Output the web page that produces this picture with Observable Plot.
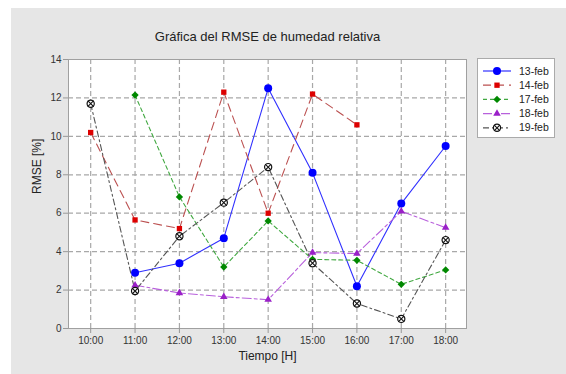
<!DOCTYPE html>
<html>
<head>
<meta charset="utf-8">
<script src="https://cdn.jsdelivr.net/npm/d3@7"></script>
<script src="https://cdn.jsdelivr.net/npm/@observablehq/plot@0.6"></script>
<style>
  html, body { margin: 0; padding: 0; background: #fff; }
  #wrap { position: relative; width: 566px; height: 374px; overflow: hidden; background: #fff; font-family: "Liberation Sans", Arial, sans-serif; }
  #panel { position: absolute; left: 11px; top: 8px; right: 0; bottom: 0; background: #e6e6e6; }
  #chart { position: absolute; left: 0; top: 0; }
  #legend { position: absolute; left: 477px; top: 58px; width: 78px; height: 80px; background: #fff; border: 1px solid #aaa; box-sizing: border-box; }
</style>
</head>
<body>
<div id="wrap">
  <div id="panel"></div>
  <div id="chart"></div>
  <div id="legend"></div>
</div>
<script>
const title = "Gráfica del RMSE de humedad relativa";
const xLabel = "Tiempo [H]";
const yLabel = "RMSE [%]";
const hours = [10, 11, 12, 13, 14, 15, 16, 17, 18];
const hourLabels = ["10:00", "11:00", "12:00", "13:00", "14:00", "15:00", "16:00", "17:00", "18:00"];
const yTicks = [0, 2, 4, 6, 8, 10, 12, 14];
const seriesNames = ["13-feb", "14-feb", "17-feb", "18-feb", "19-feb"];
const feb13 = [null, 2.9, 3.4, 4.7, 12.5, 8.1, 2.2, 6.5, 9.5];
const feb14 = [10.2, 5.65, 5.2, 12.3, 6.0, 12.2, 10.6, null, null];
const feb17 = [null, 12.15, 6.85, 3.2, 5.6, 3.6, 3.55, 2.3, 3.05];
const feb18 = [null, 2.25, 1.85, 1.65, 1.5, 3.95, 3.9, 6.1, 5.25];
const feb19 = [11.7, 1.95, 4.8, 6.55, 8.4, 3.4, 1.3, 0.5, 4.6];

const styles = {
  "13-feb": {line: "#3030ff", mark: "#0000ff", dash: null, symbol: "circle", r: 4},
  "14-feb": {line: "#bb5050", mark: "#dd0000", dash: "8,5", symbol: "square", r: 3},
  "17-feb": {line: "#40a840", mark: "#008800", dash: "4,3", symbol: "diamond2", r: 3.3},
  "18-feb": {line: "#b860dc", mark: "#9a20c8", dash: "9,3,3,3", symbol: "triangle", r: 2.8},
  "19-feb": {line: "#555555", mark: "#111111", dash: "6,3,2,3", symbol: "circle", r: 3.6}
};
const allSeries = [feb13, feb14, feb17, feb18, feb19];
const rows = [];
seriesNames.forEach((name, i) => {
  allSeries[i].forEach((v, j) => { if (v != null) rows.push({series: name, hour: hours[j], value: v}); });
});

const fmt = d => hourLabels[hours.indexOf(d)];
const marks = [
  Plot.frame({fill: "white", stroke: null}),
  Plot.gridX(hours, {stroke: "#a8a8a8", strokeOpacity: 1, strokeWidth: 1.2, strokeDasharray: "5,3"}),
  Plot.gridY(yTicks.slice(1, -1), {stroke: "#a8a8a8", strokeOpacity: 1, strokeWidth: 1.2, strokeDasharray: "5,3"}),
  Plot.frame({stroke: "#a0a0a0"}),
  Plot.axisX(hours, {tickSize: 5, tickPadding: 3, tickFormat: fmt, stroke: "#999", color: "#333", label: null}),
  Plot.axisY(yTicks, {tickSize: 5, tickPadding: 2, stroke: "#999", color: "#333", label: null}),
  Plot.text([title], {frameAnchor: "top", dy: -28, fontSize: 13, fill: "#222"}),
  Plot.text([xLabel], {frameAnchor: "bottom", dy: 31, fontSize: 12, fill: "#222"}),
  Plot.text([yLabel], {frameAnchor: "left", dx: -31, rotate: -90, fontSize: 12, fill: "#222"})
];
seriesNames.forEach(name => {
  const s = styles[name];
  const d = rows.filter(r => r.series === name);
  marks.push(Plot.line(d, {x: "hour", y: "value", stroke: s.line, strokeWidth: 1.1, strokeDasharray: s.dash}));
});
seriesNames.forEach(name => {
  const s = styles[name];
  const d = rows.filter(r => r.series === name);
  if (name === "19-feb") {
    marks.push(Plot.dot(d, {x: "hour", y: "value", r: s.r, fill: "white", stroke: s.mark, strokeWidth: 1.2}));
    marks.push(Plot.dot(d, {x: "hour", y: "value", r: 2.8, symbol: "times", stroke: s.mark, strokeWidth: 1.1}));
  } else {
    marks.push(Plot.dot(d, {x: "hour", y: "value", r: s.r, symbol: s.symbol, fill: s.mark, stroke: "none"}));
  }
});

const chart = Plot.plot({
  width: 566, height: 374,
  marginLeft: 68, marginRight: 100, marginTop: 59, marginBottom: 46,
  style: {background: "transparent", fontFamily: "'Liberation Sans', Arial, sans-serif", fontSize: "10px", color: "#333"},
  x: {domain: [9.5, 18.47]},
  y: {domain: [0, 14]},
  marks
});
document.getElementById("chart").appendChild(chart);

// Legend
const lg = d3.select("#legend").append("svg").attr("width", 76).attr("height", 78);
const symMap = {circle: d3.symbolCircle, square: d3.symbolSquare, diamond2: d3.symbolDiamond2, triangle: d3.symbolTriangle};
seriesNames.forEach((name, i) => {
  const s = styles[name];
  const y = 12 + i * 14.2;
  const g = lg.append("g").attr("transform", `translate(0,${y})`);
  g.append("line").attr("x1", 5).attr("x2", 33).attr("y1", 0).attr("y2", 0)
    .attr("stroke", s.line).attr("stroke-width", 1.2).attr("stroke-dasharray", s.dash);
  if (name === "19-feb") {
    g.append("circle").attr("cx", 19).attr("cy", 0).attr("r", s.r).attr("fill", "white").attr("stroke", s.mark).attr("stroke-width", 1.2);
    g.append("path").attr("transform", "translate(19,0)").attr("d", d3.symbol(d3.symbolTimes, Math.PI * 2.8 * 2.8)()).attr("stroke", s.mark).attr("fill", "none").attr("stroke-width", 1.1);
  } else {
    g.append("path").attr("transform", "translate(19,0)").attr("d", d3.symbol(symMap[s.symbol], Math.PI * s.r * s.r)()).attr("fill", s.mark);
  }
  g.append("text").attr("x", 41).attr("y", 0).attr("dy", "0.35em").attr("font-size", 10.5).attr("fill", "#222")
    .attr("font-family", "'Liberation Sans', Arial, sans-serif").text(name);
});
</script>
</body>
</html>
